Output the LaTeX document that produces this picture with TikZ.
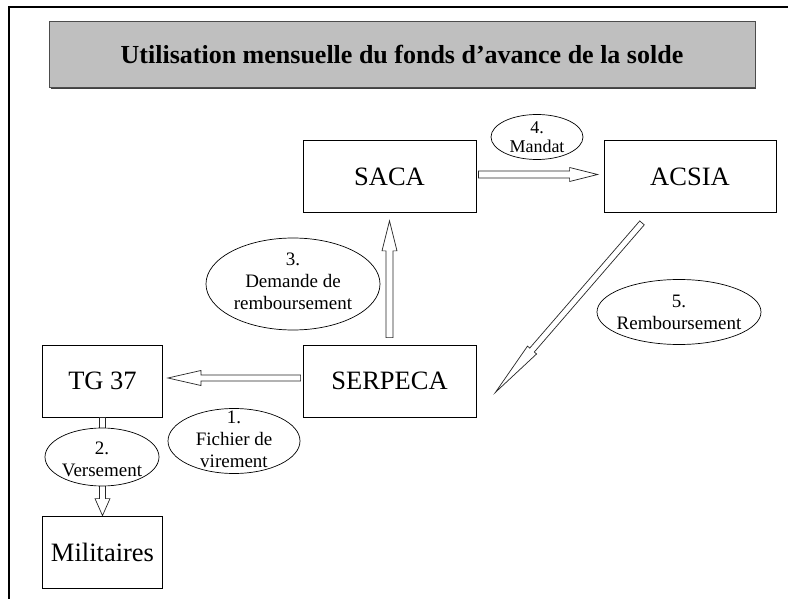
\documentclass[tikz,border=0pt]{standalone}
\usepackage{fontspec}
\setmainfont{Liberation Serif}
\usetikzlibrary{calc}

% hollow block arrow: tail, tip, shaft half-width, head half-width, head length
\newcommand\blockarrow[5]{%
  \coordinate (hb) at ($(#2)!#5!(#1)$);
  \draw[arrowbody]
    ($(#1)!#3!90:(#2)$) -- ($(hb)!#3!-90:(#1)$) -- ($(hb)!#4!-90:(#1)$)
    -- (#2) -- ($(hb)!#4!90:(#1)$) -- ($(hb)!#3!90:(#1)$)
    -- ($(#1)!#3!-90:(#2)$) -- cycle;
}

\begin{document}
\begin{tikzpicture}[x=1pt,y=-1pt,
  box/.style={draw, line width=0.8pt, inner sep=0pt, minimum height=72pt,
    font=\fontsize{26.5}{29}\selectfont},
  bubble/.style={draw, fill=white, line width=0.7pt},
  bubbletext/.style={align=center, inner sep=0pt, font=\fontsize{19}{22}\selectfont},
  arrowbody/.style={draw=black!85, fill=white, line width=0.7pt, line join=miter},
  titlebox/.style={draw=black!70, fill=black!25, line width=1pt, inner sep=0pt,
    minimum width=706pt, minimum height=66pt,
    font=\fontsize{26}{30}\selectfont\bfseries}]

\useasboundingbox (0,0) rectangle (788,599);
\fill[white] (0,0) rectangle (788,599);

% page frame: top rule and left rule
\draw[line width=1.3pt] (788,7) -- (9,7) -- (9,599);

% heading with its drop shadow
\fill[black!75] (50.5,23.5) rectangle (756,89);
\node[titlebox] (title) at (402,55) {Utilisation mensuelle du fonds d'avance de la solde};

% offices
\node[box, minimum width=173pt] (saca) at (389.5,176.5) {SACA};
\node[box, minimum width=172pt] (acsia) at (690,176.5) {ACSIA};
\node[box, minimum width=120pt] (tg) at (102.5,381) {TG 37};
\node[box, minimum width=173pt] (serpeca) at (389.5,381) {SERPECA};
\node[box, minimum width=120pt] (mil) at (102.5,552) {Militaires};

% end points of the flows
\coordinate (a1t) at ($(serpeca.west)+(-2,-3)$);
\coordinate (a1h) at ($(tg.east)+(5,-3)$);
\coordinate (a2t) at (tg.south);
\coordinate (a2h) at (mil.north);
\coordinate (a3t) at ($(serpeca.north)+(0,-7)$);
\coordinate (a3h) at ($(saca.south)+(0,8)$);
\coordinate (a4t) at ($(saca.east)+(2,-2)$);
\coordinate (a4h) at ($(acsia.west)+(-6,-2)$);
\coordinate (a5t) at ($(acsia.south)+(-48,10)$);
\coordinate (a5h) at ($(serpeca.south east)+(19,-25)$);

% flows
\blockarrow{a1t}{a1h}{3pt}{7.5pt}{33pt}
\blockarrow{a2t}{a2h}{3pt}{7.5pt}{17pt}
\blockarrow{a3t}{a3h}{3.5pt}{7.5pt}{30pt}
\blockarrow{a4t}{a4h}{3.5pt}{7pt}{28pt}
\blockarrow{a5t}{a5h}{3pt}{6pt}{56pt}

% step labels
\coordinate (c1) at (234,441);
\coordinate (c2) at (102,457);
\coordinate (c3) at (293,284);
\coordinate (c4) at (537,137);
\coordinate (c5) at (679,312);
\draw[bubble] (c1) ellipse [x radius=66, y radius=32.5];
\draw[bubble] (c2) ellipse [x radius=57, y radius=29];
\draw[bubble] (c3) ellipse [x radius=87, y radius=46];
\draw[bubble] (c4) ellipse [x radius=46, y radius=22.5];
\draw[bubble] (c5) ellipse [x radius=82, y radius=32.5];
\node[bubbletext] (s1) at ($(c1)+(0,-2)$) {1.\\Fichier de\\virement};
\node[bubbletext] (s2) at ($(c2)+(0,2)$) {2.\\Versement};
\node[bubbletext] (s3) at ($(c3)+(0,-3)$) {3.\\Demande de\\remboursement};
\node[bubbletext, font=\fontsize{18}{19}\selectfont] (s4) at ($(c4)+(0,0)$) {4.\\Mandat};
\node[bubbletext] (s5) at ($(c5)+(0,0)$) {5.\\Remboursement};

\end{tikzpicture}
\end{document}
